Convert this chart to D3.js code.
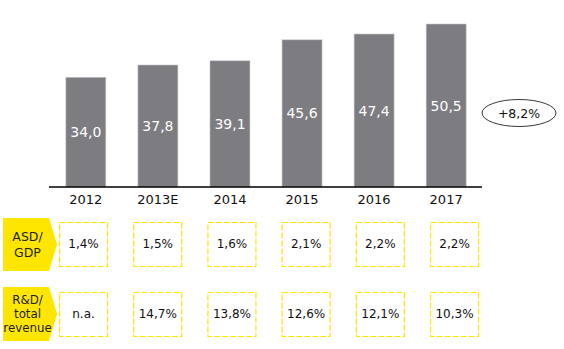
<!DOCTYPE html>
<html><head><meta charset="utf-8">
<script src="https://cdn.jsdelivr.net/npm/d3@7"></script>
<style>body{margin:0;background:#fff}svg{display:block}text{font-family:"DejaVu Sans",Verdana,sans-serif}</style>
</head><body>
<svg id="c" width="564" height="349"></svg>
<script>
const years = ["2012","2013E","2014","2015","2016","2017"];
const values = [34.0, 37.8, 39.1, 45.6, 47.4, 50.5];
const asdGdp = ["1,4%","1,5%","1,6%","2,1%","2,2%","2,2%"];
const rdRevenue = ["n.a.","14,7%","13,8%","12,6%","12,1%","10,3%"];
const rowLabels = [["ASD/","GDP"],["R&D/","total","revenue"]];
const cagrLabel = "+8,2%";

const svg = d3.select("#c");
const fmt = v => d3.format(".1f")(v).replace(".", ",");

const x = d3.scaleBand().domain(years).range([50, 482]).paddingInner(0.445).paddingOuter(0.22);
const y = d3.scaleLinear().domain([0, 50.5]).range([187, 24]);

svg.selectAll("rect.bar").data(values).join("rect")
  .attr("x", (d,i) => x(years[i])).attr("y", d => y(d))
  .attr("width", x.bandwidth()).attr("height", d => y(0) - y(d))
  .attr("fill", "#7d7c81").attr("stroke", "#c9c9cc").attr("stroke-width", 0.6);

svg.selectAll("text.val").data(values).join("text")
  .attr("x", (d,i) => x(years[i]) + x.bandwidth()/2)
  .attr("y", d => (y(d) + y(0))/2).attr("dy", "0.36em")
  .attr("text-anchor", "middle").attr("fill", "#fff").attr("font-size", 14)
  .text(fmt);

const axis = d3.axisBottom(x).tickSize(0).tickPadding(8);
const gx = svg.append("g").attr("transform", "translate(0,187)").call(axis);
gx.select(".domain").attr("d", "M49,0H482").attr("stroke", "#000").attr("stroke-width", 1.3);
gx.selectAll("text").attr("font-size", 13).attr("fill", "#111").attr("font-family", "DejaVu Sans, Verdana, sans-serif");

// CAGR ellipse
svg.append("ellipse").attr("cx", 519).attr("cy", 113).attr("rx", 37).attr("ry", 13.5)
  .attr("fill", "#fff").attr("stroke", "#222").attr("stroke-width", 0.9);
svg.append("text").attr("x", 519).attr("y", 113).attr("dy", "0.36em").attr("text-anchor", "middle")
  .attr("font-size", 12.5).attr("fill", "#111").text(cagrLabel);

// table rows
const bx = d3.scaleBand().domain(years).range([44.2, 492.9]).paddingInner(0.353).paddingOuter(0.2);
const rows = [{top:222, h:44, data: asdGdp, ltop:218, lh:53, fs:12.5, sp:16},
              {top:292, h:44, data: rdRevenue, ltop:287, lh:54, fs:11.8, sp:13.8}];
rows.forEach((r, ri) => {
  const x0 = 3, x1 = 49, tip = 57;
  svg.append("path")
    .attr("d", `M${x0},${r.ltop}H${x1}L${tip},${r.ltop + r.lh/2}L${x1},${r.ltop + r.lh}H${x0}Z`)
    .attr("fill", "#ffe600");
  const lines = rowLabels[ri];
  const cy = r.ltop + r.lh/2;
  svg.append("text").attr("text-anchor", "middle").attr("font-size", r.fs).attr("fill", "#222")
    .selectAll("tspan").data(lines).join("tspan")
    .attr("x", 27.5).attr("y", (d,i) => cy + (i - (lines.length-1)/2) * r.sp).attr("dy", "0.36em").text(d => d);

  svg.selectAll(null).data(r.data).join("rect")
    .attr("x", (d,i) => bx(years[i]) + 0.5).attr("y", r.top + 0.5)
    .attr("width", bx.bandwidth()).attr("height", r.h)
    .attr("fill", "#fff").attr("stroke", "#ffe600").attr("stroke-width", 1.2)
    .attr("stroke-dasharray", "6,2");
  svg.selectAll(null).data(r.data).join("text")
    .attr("x", (d,i) => bx(years[i]) + bx.bandwidth()/2 + 0.5).attr("y", r.top + r.h/2)
    .attr("dy", "0.36em").attr("text-anchor", "middle").attr("font-size", 12).attr("fill", "#111")
    .text(d => d);
});
</script>
</body></html>
